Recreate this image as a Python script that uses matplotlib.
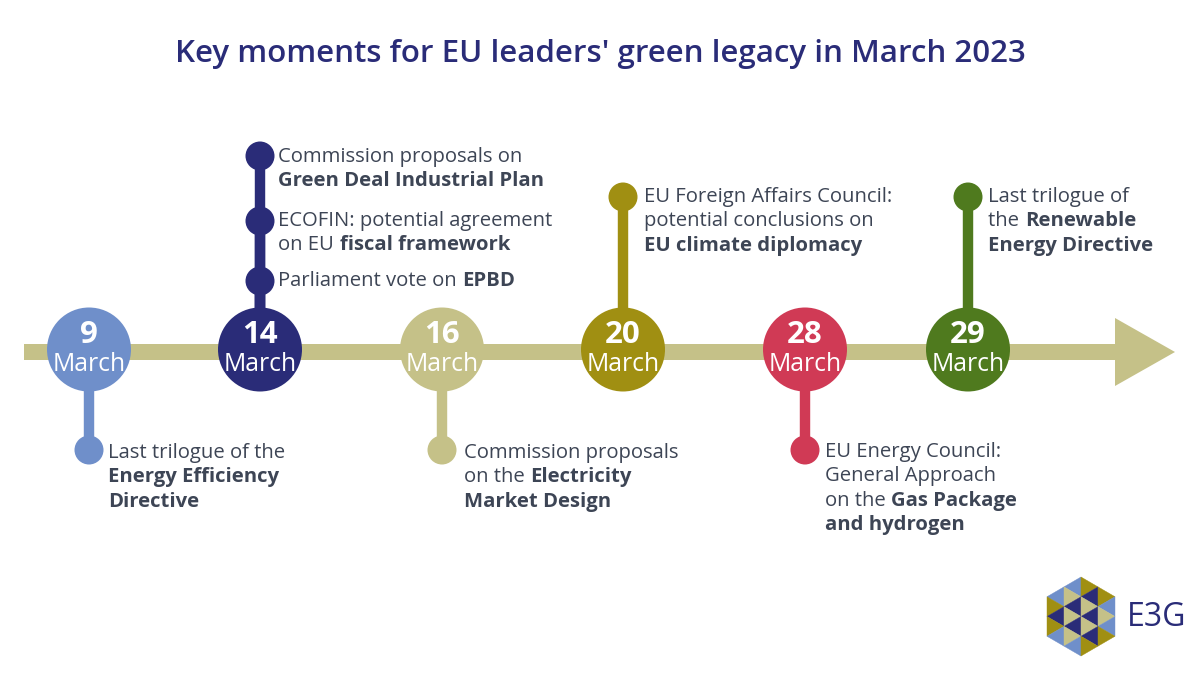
import matplotlib
matplotlib.use("Agg")
import matplotlib.pyplot as plt
from matplotlib.patches import Circle, Polygon, Rectangle

plt.rcParams["font.family"] = ["Open Sans", "DejaVu Sans"]

NAVY = "#2a2c78"
BLUE = "#6f8fca"
KHAKI = "#c5c188"
OLIVE = "#a08f12"
RED = "#d03a55"
GREEN = "#4f7a1e"
TEXT = "#3d4555"

title = "Key moments for EU leaders' green legacy in March 2023"
days = ["9", "14", "16", "20", "28", "29"]
month = "March"
day_colors = [BLUE, NAVY, KHAKI, OLIVE, RED, GREEN]
day_x = [89, 260, 442, 623, 805, 968]

# each event: text lines made of (string, is_bold) runs
ev_eed = [[("Last trilogue of the", False)],
          [("Energy Efficiency", True)],
          [("Directive", True)]]
ev_gdip = [[("Commission proposals on", False)],
           [("Green Deal Industrial Plan", True)]]
ev_ecofin = [[("ECOFIN: potential agreement", False)],
             [("on EU ", False), ("fiscal framework", True)]]
ev_epbd = [[("Parliament vote on ", False), ("EPBD", True)]]
ev_emd = [[("Commission proposals", False)],
          [("on the ", False), ("Electricity", True)],
          [("Market Design", True)]]
ev_fac = [[("EU Foreign Affairs Council:", False)],
          [("potential conclusions on", False)],
          [("EU climate diplomacy", True)]]
ev_gas = [[("EU Energy Council:", False)],
          [("General Approach", False)],
          [("on the ", False), ("Gas Package", True)],
          [("and hydrogen", True)]]
ev_red = [[("Last trilogue of", False)],
          [("the ", False), ("Renewable", True)],
          [("Energy Directive", True)]]

# day index, marker y, text x, first baseline, lines
events = [
    (0, 450, 108.5, 458, ev_eed),
    (1, 156, 278.5, 162, ev_gdip),
    (1, 221, 278.5, 226, ev_ecofin),
    (1, 281, 278.5, 286, ev_epbd),
    (2, 450, 464, 458, ev_emd),
    (3, 197, 644.5, 202, ev_fac),
    (4, 450, 825, 457, ev_gas),
    (5, 197, 988.5, 202, ev_red),
]

# logo colours per column, top to bottom
logo_cols = [
    [BLUE, OLIVE, NAVY, OLIVE, BLUE],
    [BLUE, KHAKI, NAVY, KHAKI, NAVY, KHAKI, BLUE],
    [OLIVE, NAVY, KHAKI, NAVY, KHAKI, NAVY, OLIVE],
    [OLIVE, BLUE, KHAKI, BLUE, OLIVE],
]

fig = plt.figure(figsize=(12, 6.75), dpi=100, facecolor="white")
ax = fig.add_axes([0, 0, 1, 1])
ax.set_xlim(0, 1200)
ax.set_ylim(675, 0)
ax.axis("off")
renderer = fig.canvas.get_renderer()


def text_width(s, size, weight):
    # a closing dot keeps trailing spaces in the measured width
    t = ax.text(0, 0, s + ".", fontsize=size, fontweight=weight, alpha=0)
    d = ax.text(0, 0, ".", fontsize=size, fontweight=weight, alpha=0)
    w = t.get_window_extent(renderer).width - d.get_window_extent(renderer).width
    t.remove()
    d.remove()
    return w


def draw_runs(x, y, runs, size=14.6):
    for s, bold in runs:
        weight = "bold" if bold else "normal"
        ax.text(x, y, s, fontsize=size, color=TEXT, va="baseline", ha="left",
                fontweight=weight, zorder=5)
        x += text_width(s, size, weight)


ax.text(600, 54, title, fontsize=22.5, fontweight=600, color=NAVY,
        ha="center", va="center")

# timeline band and arrow
ax.add_patch(Rectangle((24, 344), 1095, 16, color=KHAKI, lw=0, zorder=1))
ax.add_patch(Polygon([(1115, 318), (1175, 352), (1115, 386)], color=KHAKI, lw=0, zorder=1))

# stems and markers
for idx, my, tx, base, lines in events:
    x = day_x[idx]
    c = day_colors[idx]
    ax.plot([x, x], [350, my], color=c, lw=7.5, solid_capstyle="butt", zorder=2)
    ax.add_patch(Circle((x, my), 14.5, color=c, lw=0, zorder=3))
    for i, runs in enumerate(lines):
        draw_runs(tx, base + i * 24.4, runs)

# date circles
for d, c, x in zip(days, day_colors, day_x):
    ax.add_patch(Circle((x, 349.5), 42, color=c, lw=0, zorder=4))
    ax.text(x, 343, d, fontsize=22.5, fontweight="bold", color="white",
            ha="center", va="baseline", zorder=5)
    ax.text(x, 371, month, fontsize=17.8, color="white",
            ha="center", va="baseline", zorder=5)

# logo: hexagon cut into a triangular grid
lx0, lw_, lh = 1047, 17, 19.75
ltop = 577
for col, colors in enumerate(logo_cols):
    xl, xr = lx0 + col * lw_, lx0 + (col + 1) * lw_
    # side of the strip whose vertices start one half step higher
    long_x, short_x = (xr, xl) if col < 2 else (xl, xr)
    top = ltop if col in (1, 2) else ltop + lh / 2
    for k, c in enumerate(colors):
        n = k // 2
        if k % 2 == 0:
            tri = [(long_x, top + n * lh), (long_x, top + (n + 1) * lh),
                   (short_x, top + (n + 0.5) * lh)]
        else:
            tri = [(short_x, top + (n + 0.5) * lh), (short_x, top + (n + 1.5) * lh),
                   (long_x, top + (n + 1) * lh)]
        ax.add_patch(Polygon(tri, facecolor=c, edgecolor=c, lw=0.3, zorder=2))
ax.text(1127, 617, "E3G", fontsize=23, color=NAVY, ha="left", va="center")

fig.savefig("out.png", dpi=100)
